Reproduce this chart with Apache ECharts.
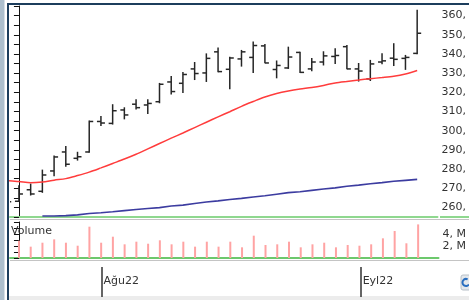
<!DOCTYPE html>
<html>
<head>
<meta charset="utf-8">
<script src="https://cdn.jsdelivr.net/npm/echarts@6/dist/echarts.min.js"></script>
<style>
	html, body { margin: 0; padding: 0; background: #fff; }
	#chart { width: 469px; height: 300px; }
</style>
</head>
<body>
<div id="chart"></div>
<script>
	// trading days, the first one is cut off by the left edge
	var dates = ['2022-07-20', '2022-07-21', '2022-07-22', '2022-07-25', '2022-07-26', '2022-07-27', '2022-07-28', '2022-07-29',
		'2022-08-01', '2022-08-02', '2022-08-03', '2022-08-04', '2022-08-05', '2022-08-08', '2022-08-09', '2022-08-10',
		'2022-08-11', '2022-08-12', '2022-08-15', '2022-08-16', '2022-08-17', '2022-08-18', '2022-08-19', '2022-08-22',
		'2022-08-23', '2022-08-24', '2022-08-25', '2022-08-26', '2022-08-29', '2022-08-31', '2022-09-01', '2022-09-02',
		'2022-09-05', '2022-09-06', '2022-09-07', '2022-09-08'];
	var opens = [262, 263.2, 269.2, 268.4, 279, 288.9, 285.6, 288.9, 304.8, 303.8, 310.8, 313.8, 313.4, 315.1, 325.4, 324.7,
		332.2, 330.1, 341.1, 332, 337.4, 338.2, 344.2, 331.9, 332.7, 340.8, 332.2, 335.8, 338.7, 343.8, 332.2, 327,
		335.8, 337.8, 337.7, 340.3];
	var highs = [265, 271.6, 272.4, 279.7, 287, 292, 289, 305.3, 307.7, 313.8, 312.2, 316.4, 316.4, 324.9, 328.5, 330.6,
		335.8, 340.3, 343.4, 338.6, 342.1, 346.5, 345.2, 336.6, 343.8, 341.2, 337.9, 341.4, 343, 344.7, 335.3, 336.9,
		340.4, 345.6, 339.5, 363];
	var lows = [261, 263, 266.2, 267.6, 276.3, 281.2, 284.4, 288.5, 302.4, 303.2, 305.9, 311.1, 308.7, 314.3, 318.9, 319.7,
		326.4, 325.4, 330.4, 321.6, 333.4, 330.1, 335.2, 327.3, 332.2, 330.1, 331, 334, 334.8, 332, 325.6, 325.9,
		334.6, 333.7, 331.7, 339.9];
	var closes = [263, 267, 267, 276.9, 286.3, 282.5, 286.4, 304.8, 304, 310.4, 308.2, 312, 314.2, 324.2, 320.4, 329.3,
		329.8, 337.7, 330.8, 337.9, 341.1, 344.4, 335.3, 334, 338.4, 330.4, 335.8, 339, 339.2, 332.2, 331.1, 334.8,
		336.4, 337.2, 338.2, 350.8];
	// volume in millions
	var volumes = [null, 2.88, 1.89, 2.55, 3.11, 2.55, 2.05, 5.22, 2.55, 3.55, 2.28, 2.72, 2.38, 2.95, 2.28, 2.72,
		1.89, 2.72, 1.89, 2.72, 1.78, 3.72, 2.17, 2.28, 2.72, 1.78, 2.28, 2.55, 1.78, 2.17, 2.05, 2.28,
		3.28, 4.5, 2.45, 5.6];
	var maShort = [274, 273.5, 272.8, 273.2, 274.2, 275, 276.6, 278.4, 280.6, 282.9, 285.2, 287.7, 290.5, 293.3, 296.1, 298.8,
		301.6, 304.4, 307.2, 309.9, 312.7, 315.2, 317.6, 319.4, 320.7, 321.7, 322.5, 323.6, 324.9, 325.7, 326.4, 327.1,
		327.7, 328.4, 329.6, 331.4];
	var maLong = [null, null, null, 255.5, 255.5, 255.7, 256.1, 256.8, 257.2, 257.7, 258.3, 258.9, 259.4, 259.9, 260.7, 261.2,
		262, 262.8, 263.4, 264.1, 264.7, 265.4, 266.1, 266.9, 267.7, 268.2, 268.9, 269.6, 270.2, 271, 271.6, 272.3,
		272.9, 273.6, 274.1, 274.6];
	var tickLabels = ['Ağu22', 'Eyl22'];

	var font = 'DejaVu Sans';
	var xMin = -0.764, xMax = 35.736;

	var ohlc = [], vol = [], redLine = [], blueLine = [], monthStarts = [];
	for (var k = 0; k < dates.length; k++) {
		var x = k - 1;
		ohlc.push([x, opens[k], highs[k], lows[k], closes[k]]);
		if (volumes[k] != null) vol.push([x, volumes[k] * 1e6]);
		redLine.push([x, maShort[k]]);
		blueLine.push([x, maLong[k]]);
		if (k > 0 && dates[k].slice(5, 7) !== dates[k - 1].slice(5, 7)) monthStarts.push(x);
	}

	function renderBar(params, api) {
		var x = api.value(0);
		var o = api.coord([x, api.value(1)]);
		var h = api.coord([x, api.value(2)]);
		var l = api.coord([x, api.value(3)]);
		var c = api.coord([x, api.value(4)]);
		var st = { stroke: '#262626', lineWidth: 1.5 };
		return {
			type: 'group',
			children: [
				{ type: 'line', shape: { x1: h[0], y1: h[1], x2: l[0], y2: l[1] }, style: st },
				{ type: 'line', shape: { x1: o[0] - 4, y1: o[1], x2: o[0], y2: o[1] }, style: st },
				{ type: 'line', shape: { x1: c[0], y1: c[1], x2: c[0] + 4, y2: c[1] }, style: st }
			]
		};
	}

	var chart = echarts.init(document.getElementById('chart'));
	var option = {
		animation: false,
		backgroundColor: '#fff',
		title: {
			text: 'Volume', left: 11, top: 226, padding: 0,
			textStyle: { fontFamily: font, fontSize: 11, fontWeight: 'normal', color: '#333' }
		},
		grid: [
			{ left: 10, right: 29, top: 6, height: 211 },
			{ left: 10, right: 29, top: 222, height: 36 },
			{ left: 10, right: 29, top: 267, height: 29 }
		],
		xAxis: [
			{ type: 'value', gridIndex: 0, min: xMin, max: xMax, splitLine: { show: false },
				axisLine: { onZero: false, lineStyle: { color: '#8fd88f', width: 2 } },
				axisTick: { show: false }, axisLabel: { show: false } },
			{ type: 'value', gridIndex: 1, min: xMin, max: xMax, splitLine: { show: false },
				axisLine: { onZero: false, lineStyle: { color: '#6cc86c', width: 2 } },
				axisTick: { show: false }, axisLabel: { show: false } },
			{ type: 'value', gridIndex: 2, min: xMin, max: xMax, position: 'top', splitLine: { show: false },
				axisLine: { show: false, onZero: false },
				axisTick: { show: true, inside: true, length: 30, customValues: monthStarts, lineStyle: { color: '#333', width: 1.5 } },
				axisLabel: {
					show: true, inside: true, customValues: monthStarts, margin: 14,
					align: 'left', verticalAlign: 'middle', padding: [0, 0, 0, 2],
					fontFamily: font, fontSize: 11, color: '#333',
					formatter: function (v) { return tickLabels[monthStarts.indexOf(v)] || ''; }
				} }
		],
		yAxis: [
			{ type: 'value', gridIndex: 0, position: 'right', min: 255, max: 365, interval: 5,
				splitLine: { show: false },
				axisLine: { show: true, lineStyle: { color: '#111' } },
				axisTick: { show: true, inside: true, length: 5, lineStyle: { color: '#111' } },
				axisLabel: { margin: 4, fontFamily: font, fontSize: 11, color: '#333',
					formatter: function (v) { return v % 10 === 0 ? v + ',' : ''; } } },
			{ type: 'value', gridIndex: 1, position: 'right', min: 0, max: 6e6, interval: 1e6,
				splitLine: { show: false },
				axisLine: { show: true, lineStyle: { color: '#111' } },
				axisTick: { show: true, inside: true, length: 5, lineStyle: { color: '#111' } },
				axisLabel: { margin: 4, fontFamily: font, fontSize: 11, color: '#333',
					formatter: function (v) { return (v === 2e6 || v === 4e6) ? (v / 1e6) + ', M' : ''; } } },
			{ type: 'value', gridIndex: 2, show: false }
		],
		series: [
			{ name: 'MA long', type: 'line', xAxisIndex: 0, yAxisIndex: 0, data: blueLine, symbol: 'none',
				lineStyle: { color: '#3c3ca0', width: 1.6 } },
			{ name: 'MA short', type: 'line', xAxisIndex: 0, yAxisIndex: 0, data: redLine, symbol: 'none',
				smooth: 0.3, lineStyle: { color: '#ff3c3c', width: 1.5 } },
			{ name: 'Price', type: 'custom', xAxisIndex: 0, yAxisIndex: 0, data: ohlc, renderItem: renderBar,
				clip: true, encode: { x: 0, y: [1, 2, 3, 4] } },
			{ name: 'Volume', type: 'bar', xAxisIndex: 1, yAxisIndex: 1, data: vol, barWidth: 2,
				itemStyle: { color: '#ffa3a3' } }
		],
		graphic: [
			{ type: 'rect', shape: { x: 0, y: 0, width: 4.5, height: 300 }, style: { fill: '#adbfcd' } },
			{ type: 'rect', shape: { x: 7, y: 3, width: 2, height: 297 }, style: { fill: '#1c3d5c' } },
			{ type: 'rect', shape: { x: 7, y: 3, width: 462, height: 2 }, style: { fill: '#1c3d5c' } },
			{ type: 'line', shape: { x1: 10, y1: 219.5, x2: 469, y2: 219.5 }, style: { stroke: '#c4c4c4', lineWidth: 1 } },
			{ type: 'line', shape: { x1: 440, y1: 217, x2: 469, y2: 217 }, style: { stroke: '#8fd88f', lineWidth: 2 } },
			{ type: 'line', shape: { x1: 10, y1: 260.5, x2: 469, y2: 260.5 }, style: { stroke: '#c4c4c4', lineWidth: 1 } },
			{ type: 'rect', shape: { x: 9, y: 296, width: 460, height: 4 }, style: { fill: '#ececec' } },
			{ type: 'rect', shape: { x: 461, y: 275, width: 10, height: 15, r: 2 }, style: { fill: '#e4e8ec', stroke: '#b8c0c8' } },
			{ type: 'arc', shape: { cx: 466, cy: 282.5, r: 3.5, startAngle: 0.6, endAngle: 5.2 }, style: { stroke: '#2a6fc0', lineWidth: 2, fill: 'none' } }
		]
	};
	chart.setOption(option);
</script>
</body>
</html>
